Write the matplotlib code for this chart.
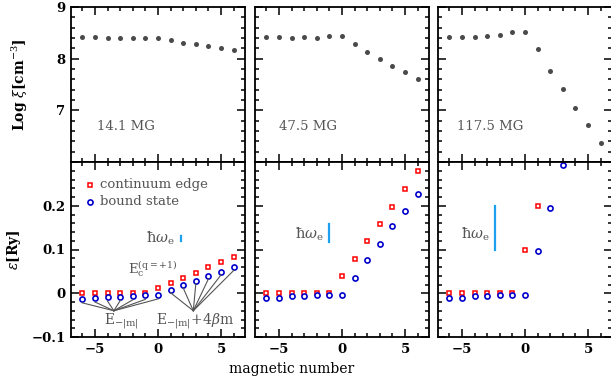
import matplotlib
matplotlib.use('Agg')
import matplotlib.pyplot as plt
import numpy as np
from matplotlib.ticker import MultipleLocator

plt.rcParams['font.family'] = ['DejaVu Serif']
plt.rcParams['mathtext.fontset'] = 'dejavuserif'

# magnetic quantum number
m = np.arange(-6, 7)

# field strengths and labels
fields = ['14.1 MG', '47.5 MG', '117.5 MG']

# log critical density (top row)
xi14 = [8.42, 8.41, 8.40, 8.40, 8.40, 8.40, 8.40, 8.36, 8.31, 8.28, 8.24, 8.20, 8.17]
xi47 = [8.42, 8.42, 8.40, 8.41, 8.40, 8.43, 8.43, 8.29, 8.13, 8.00, 7.86, 7.74, 7.60]
xi117 = [8.41, 8.42, 8.42, 8.44, 8.45, 8.52, 8.51, 8.18, 7.77, 7.42, 7.05, 6.71, 6.37]

# continuum edge energies [Ry] (bottom row)
cont14 = [0, 0, 0, 0, 0, 0, 0.011, 0.024, 0.035, 0.047, 0.059, 0.072, 0.083]
cont47 = [0, 0, 0, 0, 0, 0, 0.039, 0.079, 0.119, 0.159, 0.198, 0.238, 0.279]
cont117 = [0, 0, 0, 0, 0, 0, 0.099, 0.199, np.nan, np.nan, np.nan, np.nan, np.nan]

# bound state energies [Ry]
bound14 = [-0.013, -0.011, -0.009, -0.008, -0.006, -0.005, -0.004, 0.008, 0.019, 0.029, 0.040, 0.049, 0.059]
bound47 = [-0.011, -0.011, -0.007, -0.006, -0.004, -0.003, -0.003, 0.036, 0.075, 0.113, 0.153, 0.188, 0.228]
bound117 = [-0.011, -0.011, -0.006, -0.006, -0.004, -0.003, -0.003, 0.097, 0.196, 0.293, np.nan, np.nan, np.nan]

# electron cyclotron energy [Ry]
hw = [0.012, 0.04, 0.10]

xis = [xi14, xi47, xi117]
conts = [cont14, cont47, cont117]
bounds = [bound14, bound47, bound117]

W, H = 611, 385
fig = plt.figure(figsize=(W / 100, H / 100), dpi=100)

lefts = [71, 255, 438]
pw = 174
gray = '#555555'

def style(ax):
    ax.tick_params(which='both', direction='in', top=True, right=True, width=1.1,
                   labelsize=9.5, pad=4)
    ax.tick_params(which='major', length=5.5)
    ax.tick_params(which='minor', length=3)
    for s in ax.spines.values():
        s.set_linewidth(1.3)
    for lab in ax.get_xticklabels() + ax.get_yticklabels():
        lab.set_fontweight('bold')
    ax.xaxis.set_major_locator(MultipleLocator(5))
    ax.xaxis.set_minor_locator(MultipleLocator(1))
    ax.set_xlim(-6.9, 6.9)

hw_x = [1.8, -1.0, -2.4]
hw_y0 = [0.12, 0.118, 0.099]
hw_tx = [1.35, -1.45, -2.8]
hw_ty = [0.125, 0.135, 0.135]
field_x = [-4.85, -5.0, -5.4]

for i in range(3):
    axt = fig.add_axes([lefts[i] / W, 1 - 162 / H, pw / W, 155 / H])
    axb = fig.add_axes([lefts[i] / W, 1 - 337 / H, pw / W, 175 / H])

    axt.plot(m, xis[i], 'o', color='#4a4a4a', ms=3.6, mec='none')
    axt.set_ylim(6, 9)
    axt.yaxis.set_major_locator(MultipleLocator(1))
    axt.yaxis.set_minor_locator(MultipleLocator(0.2))
    axt.text(field_x[i], 6.68, fields[i], color=gray, fontsize=9.5, va='center')

    axb.plot(m, conts[i], 's', mfc='white', mec='#ff0000', mew=1.1, ms=3.4)
    axb.plot(m, bounds[i], 'o', mfc='white', mec='#0000cc', mew=1.2, ms=3.7,
             clip_on=False)
    axb.set_ylim(-0.1, 0.3)
    axb.yaxis.set_major_locator(MultipleLocator(0.1))
    axb.yaxis.set_minor_locator(MultipleLocator(0.02))

    axb.plot([hw_x[i], hw_x[i]], [hw_y0[i], hw_y0[i] + hw[i]], color='#1ea0f0', lw=1.6)
    axb.text(hw_tx[i], hw_ty[i], '\u0127$\\omega_\\mathrm{e}$', color=gray, fontsize=10.5,
             ha='right', va='center')

    style(axt)
    style(axb)
    axt.set_xticklabels([])
    axt.set_yticks([6, 7, 8, 9])
    axb.set_yticks([-0.1, 0, 0.1, 0.2, 0.3])
    if i == 0:
        axt.set_yticklabels(['', '7', '8', '9'], fontweight='bold')
        axb.set_yticklabels(['\u22120.1', '0', '0.1', '0.2', ''], fontweight='bold')
        axt.set_ylabel(r'Log $\xi$[cm$^{-3}$]', fontsize=10, fontweight='bold', labelpad=19)
        axb.set_ylabel(r'$\epsilon$[Ry]', fontsize=10, fontweight='bold', labelpad=6)
    else:
        axt.set_yticklabels([])
        axb.set_yticklabels([])

    if i == 0:
        # legend
        axb.plot(-5.4, 0.248, 's', mfc='white', mec='#ff0000', mew=1.1, ms=3.4)
        axb.plot(-5.4, 0.209, 'o', mfc='white', mec='#0000cc', mew=1.2, ms=3.7)
        axb.text(-4.6, 0.248, 'continuum edge', color=gray, fontsize=9.5, va='center')
        axb.text(-4.6, 0.209, 'bound state', color=gray, fontsize=9.5, va='center')

        # annotation lines
        for mm, b in zip(m, bound14):
            if mm <= 0:
                axb.plot([mm, -3.5], [b - 0.009, -0.040], color=gray, lw=0.8)
            else:
                axb.plot([mm, 2.8], [b - 0.007, -0.040], color=gray, lw=0.8)
        axb.text(-2.9, -0.063, r'E$_{-|\mathrm{m}|}$', color=gray, fontsize=10,
                 ha='center', va='center')
        axb.text(2.9, -0.063, r'E$_{-|\mathrm{m}|}$+4$\beta$m', color=gray, fontsize=10,
                 ha='center', va='center')
        axb.text(-0.4, 0.056, r'E$_\mathrm{c}^{\mathrm{(q=+1)}}$', color=gray, fontsize=9.5,
                 ha='center', va='center')

fig.text(292 / W, 1 - 369 / H, 'magnetic number', ha='center', va='center', fontsize=10)

fig.savefig('out.png', dpi=100)
